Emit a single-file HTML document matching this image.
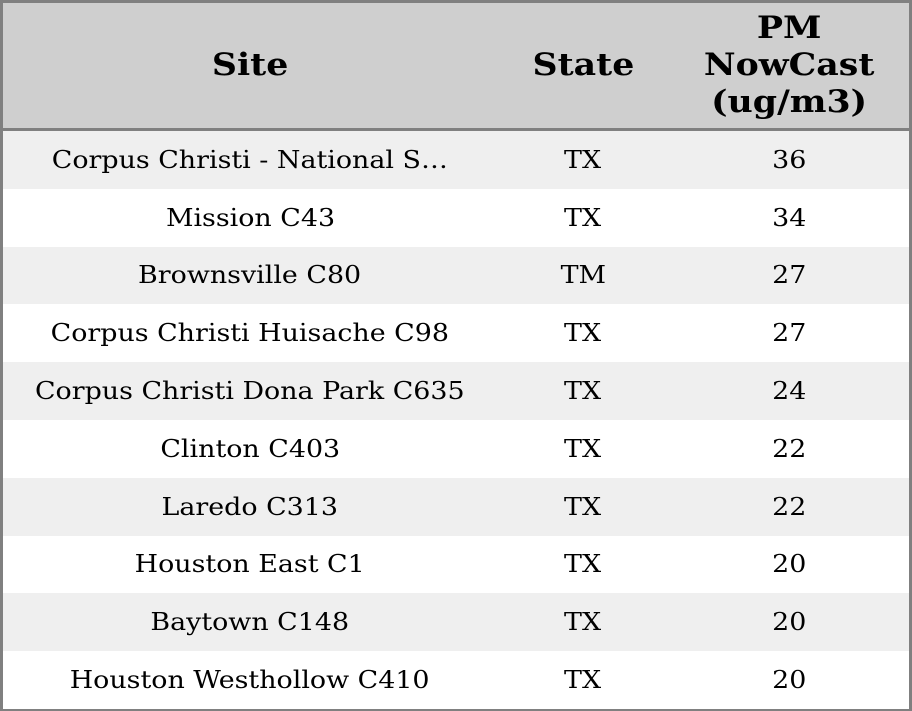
<!DOCTYPE html>
<html><head><style>
html,body{margin:0;padding:0;width:912px;height:711px;overflow:hidden;background:#fff}
.wrap{position:absolute;left:0;top:0;width:906px;height:705px;border:3px solid #808080;font-family:"DejaVu Serif","Liberation Serif",serif}
.hdr{position:absolute;left:0;top:0;width:906px;height:125px;background:#cfcfcf;border-bottom:3px solid #808080}
.h{position:absolute;top:0;height:125px;display:flex;align-items:center;justify-content:center;text-align:center;font-weight:bold;font-size:31px;line-height:37px;color:#000}
.h span,.c span{display:inline-block;transform:scaleX(1.12)}
.row{position:absolute;left:0;width:906px;height:57.8px}
.c{position:absolute;top:0;height:100%;display:flex;align-items:center;justify-content:center;font-size:24px;color:#000;white-space:nowrap}
.c1{left:0;width:494px}.c2{left:494px;width:172px}.c3{left:666px;width:240px}
</style></head><body>
<div class="wrap">
<div class="hdr">
<div class="h c1"><span>Site</span></div>
<div class="h c2"><span>State</span></div>
<div class="h c3"><span>PM<br>NowCast<br>(ug/m3)</span></div>
</div>
<div class="row" style="top:128px;background:#efefef"><div class="c c1"><span>Corpus Christi - National S…</span></div><div class="c c2"><span>TX</span></div><div class="c c3"><span>36</span></div></div>
<div class="row" style="top:185.8px;background:#fff"><div class="c c1"><span>Mission C43</span></div><div class="c c2"><span>TX</span></div><div class="c c3"><span>34</span></div></div>
<div class="row" style="top:243.6px;background:#efefef"><div class="c c1"><span>Brownsville C80</span></div><div class="c c2"><span>TM</span></div><div class="c c3"><span>27</span></div></div>
<div class="row" style="top:301.4px;background:#fff"><div class="c c1"><span>Corpus Christi Huisache C98</span></div><div class="c c2"><span>TX</span></div><div class="c c3"><span>27</span></div></div>
<div class="row" style="top:359.2px;background:#efefef"><div class="c c1"><span>Corpus Christi Dona Park C635</span></div><div class="c c2"><span>TX</span></div><div class="c c3"><span>24</span></div></div>
<div class="row" style="top:417px;background:#fff"><div class="c c1"><span>Clinton C403</span></div><div class="c c2"><span>TX</span></div><div class="c c3"><span>22</span></div></div>
<div class="row" style="top:474.8px;background:#efefef"><div class="c c1"><span>Laredo C313</span></div><div class="c c2"><span>TX</span></div><div class="c c3"><span>22</span></div></div>
<div class="row" style="top:532.6px;background:#fff"><div class="c c1"><span>Houston East C1</span></div><div class="c c2"><span>TX</span></div><div class="c c3"><span>20</span></div></div>
<div class="row" style="top:590.4px;background:#efefef"><div class="c c1"><span>Baytown C148</span></div><div class="c c2"><span>TX</span></div><div class="c c3"><span>20</span></div></div>
<div class="row" style="top:648.2px;background:#fff"><div class="c c1"><span>Houston Westhollow C410</span></div><div class="c c2"><span>TX</span></div><div class="c c3"><span>20</span></div></div>
</div>
</body></html>
